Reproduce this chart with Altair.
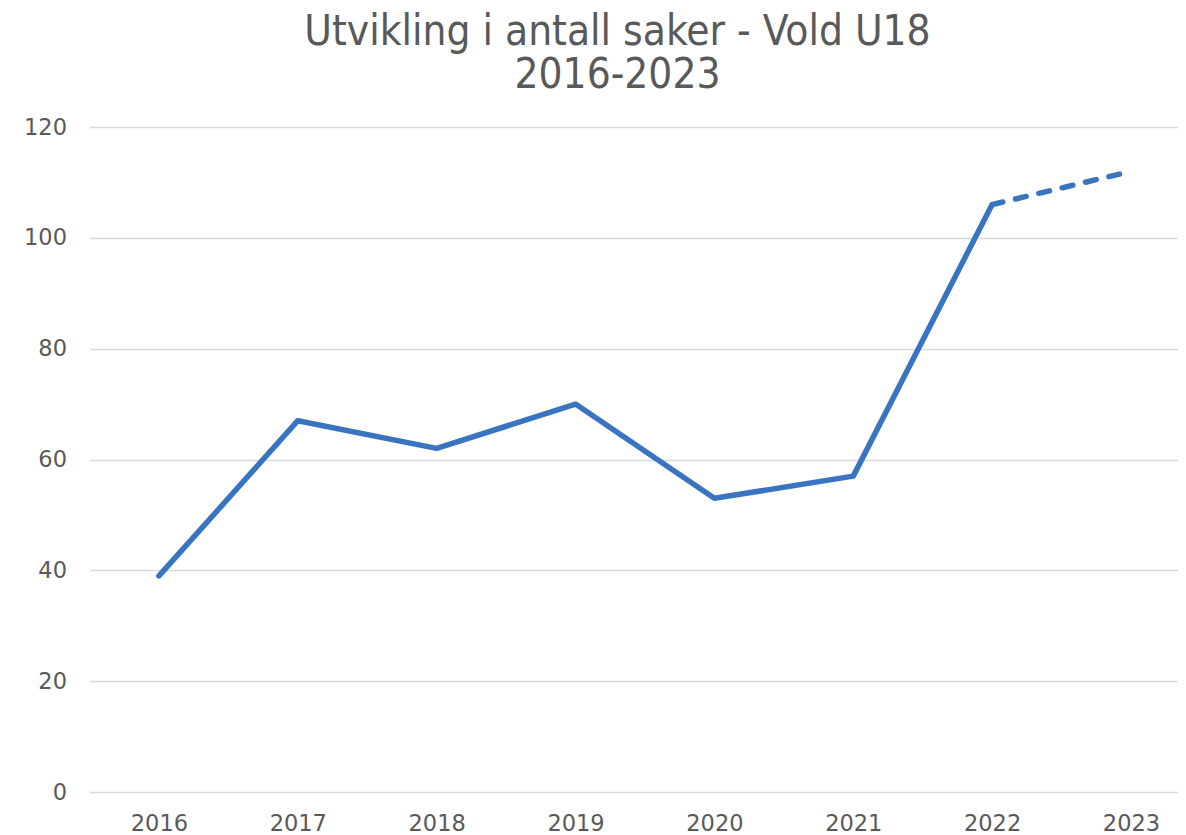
import altair as alt
import pandas as pd

years = [2016, 2017, 2018, 2019, 2020, 2021, 2022, 2023]
values = [39, 67, 62, 70, 53, 57, 106, 112]
y_ticks = [0, 20, 40, 60, 80, 100, 120]
title_lines = ["Utvikling i antall saker - Vold U18", "2016-2023"]

df = pd.DataFrame({"year": years, "value": values})

LABEL_FONT = "DejaVu Sans"
GREY = "#595959"
BLUE = "#3874C0"

base = alt.Chart(df).encode(
    x=alt.X(
        "year:Q",
        scale=alt.Scale(domain=[2015.5, 2023.335], nice=False, zero=False),
        axis=alt.Axis(
            values=years, format="d", title=None, grid=False, domain=False,
            ticks=False, labelPadding=20, labelFontSize=22.5, labelColor=GREY,
            labelFont=LABEL_FONT, labelFlush=False,
        ),
    ),
    y=alt.Y(
        "value:Q",
        scale=alt.Scale(domain=[0, 120], nice=False),
        axis=alt.Axis(
            values=y_ticks, title=None, grid=True, gridColor="#d9d9d9",
            gridWidth=1.5, domain=False, ticks=False, labelPadding=23,
            labelFontSize=22.5, labelColor=GREY, labelFont=LABEL_FONT,
        ),
    ),
)

solid = base.transform_filter("datum.year <= 2022").mark_line(
    color=BLUE, strokeWidth=5.5, strokeCap="round", strokeJoin="round"
)
dashed = base.transform_filter("datum.year >= 2022").mark_line(
    color=BLUE, strokeWidth=5.5, strokeCap="round", strokeDash=[11, 13]
)

chart = (
    alt.layer(solid, dashed)
    .properties(
        width=1088,
        height=665,
        autosize="none",
        padding={"left": 81.5, "top": 119, "right": 0, "bottom": 45},
        title=alt.TitleParams(
            text=title_lines,
            font="DejaVu Sans Condensed, DejaVu Sans",
            fontSize=42,
            fontWeight="normal",
            color=GREY,
            lineHeight=43,
            anchor="middle",
            dx=-16,
            offset=19,
        ),
    )
    .configure_view(stroke=None)
)

chart.save("out.html", embed_options={"renderer": "svg", "actions": False})
